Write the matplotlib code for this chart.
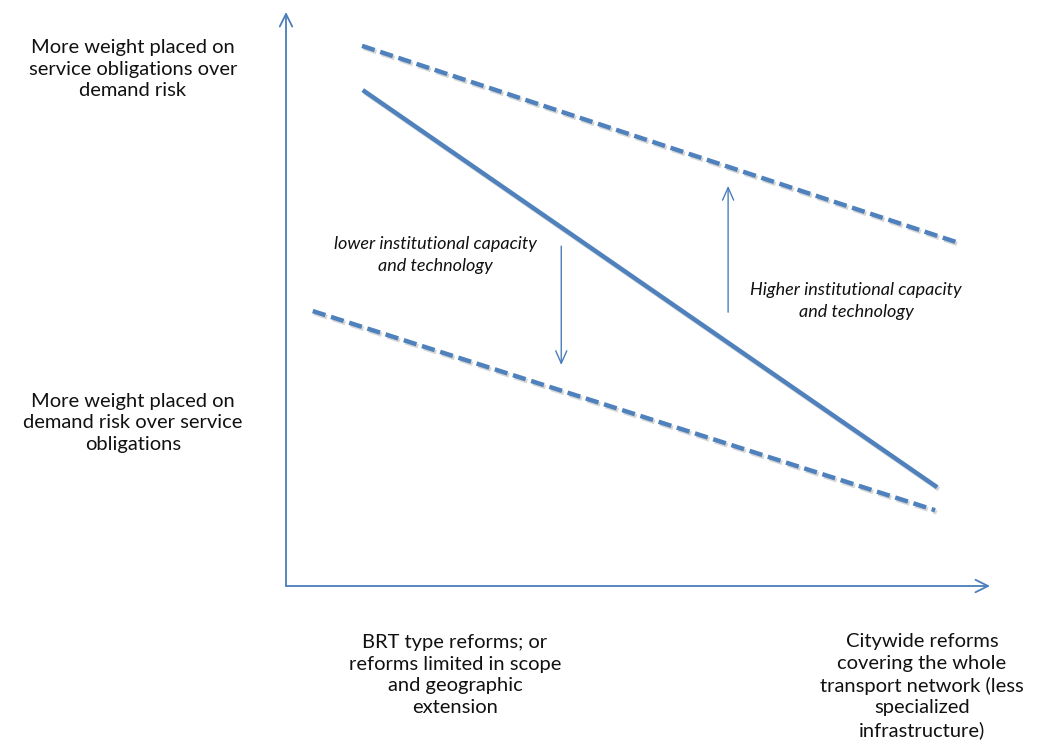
import matplotlib
matplotlib.use("Agg")
import matplotlib.pyplot as plt
import matplotlib.transforms as mtransforms

plt.rcParams['font.family'] = ['Lato', 'DejaVu Sans']

# Conceptual data (axes units 0..1)
solid_x = [0.109, 0.925]
solid_y = [0.864, 0.172]
upper_x = [0.108, 0.955]
upper_y = [0.941, 0.598]
lower_x = [0.038, 0.922]
lower_y = [0.479, 0.132]
up_arrow_x = 0.628
up_arrow_y = [0.477, 0.697]
down_arrow_x = 0.391
down_arrow_y = [0.592, 0.385]

y_labels = ["More weight placed on\nservice obligations over\ndemand risk",
            "More weight placed on\ndemand risk over service\nobligations"]
x_labels = ["BRT type reforms; or\nreforms limited in scope\nand geographic\nextension",
            "Citywide reforms\ncovering the whole\ntransport network (less\nspecialized\ninfrastructure)"]
low_note = "lower institutional capacity\nand technology"
high_note = "Higher institutional capacity\nand technology"

W, H = 1051, 752
fig = plt.figure(figsize=(W/100, H/100), dpi=100)
ax = fig.add_axes([286/W, (H-586)/H, (990-286)/W, (586-12)/H])
ax.set_xlim(0, 1)
ax.set_ylim(0, 1)
ax.axis('off')

blue = '#4f81bd'
axis_blue = '#4a7ebb'
shadow_tr = mtransforms.offset_copy(ax.transData, fig=fig, x=1.2, y=-1.5, units='points')

# axes arrows
for xy in [(0, 1), (1, 0)]:
    ax.annotate('', xy=xy, xytext=(0, 0), xycoords='axes fraction',
                arrowprops=dict(arrowstyle='->,head_length=0.9,head_width=0.45', color=axis_blue, lw=1.3,
                                shrinkA=0, shrinkB=0), annotation_clip=False)

for xs, ys, dashed in [(solid_x, solid_y, False), (upper_x, upper_y, True), (lower_x, lower_y, True)]:
    kw = dict(dashes=(3.0, 1.3), dash_capstyle='butt') if dashed else dict(solid_capstyle='butt')
    ax.plot(xs, ys, color='#8a8a8a', alpha=0.35, lw=3.2, transform=shadow_tr, **kw)
    ax.plot(xs, ys, color=blue, lw=3.2, **kw)

ax.annotate('', xy=(up_arrow_x, up_arrow_y[1]), xytext=(up_arrow_x, up_arrow_y[0]),
            arrowprops=dict(arrowstyle='->,head_length=0.9,head_width=0.4', color=axis_blue, lw=1.0,
                            shrinkA=0, shrinkB=0))
ax.annotate('', xy=(down_arrow_x, down_arrow_y[1]), xytext=(down_arrow_x, down_arrow_y[0]),
            arrowprops=dict(arrowstyle='->,head_length=0.9,head_width=0.4', color=axis_blue, lw=1.0,
                            shrinkA=0, shrinkB=0))

def ft(x, y, s, **kw):
    fig.text(x/W, 1 - y/H, s, **kw)

big = dict(ha='center', va='center', fontsize=14.5, linespacing=1.33, color='#111111')
ft(133, 69, y_labels[0], **big)
ft(133, 423, y_labels[1], **big)
ft(455, 675, x_labels[0], **big)
ft(922, 686, x_labels[1], **big)
note = dict(ha='center', va='center', fontsize=13, style='italic', linespacing=1.45, color='#111111')
ft(435, 255, low_note, **note)
ft(856, 301, high_note, **note)

fig.savefig('out.png', dpi=100, facecolor='white')
